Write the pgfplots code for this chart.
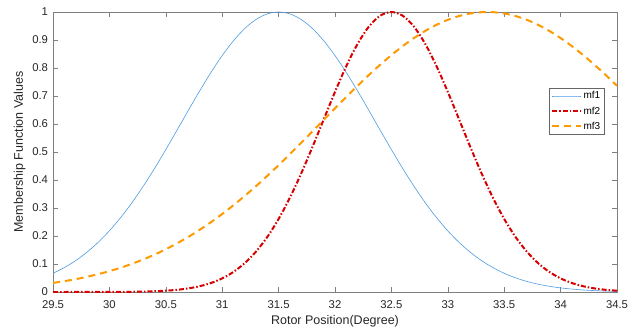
\documentclass[border=0pt]{standalone}
\usepackage{fontspec}
\setmainfont{Liberation Sans}
\usepackage{pgfplots}
\pgfplotsset{compat=1.18}
\definecolor{mfblue}{RGB}{77,155,228}
\definecolor{mfred}{RGB}{214,0,0}
\definecolor{mforange}{RGB}{255,153,0}
\definecolor{axgray}{RGB}{128,128,128}
\begin{document}
\begin{tikzpicture}
\begin{axis}[name=ax, scale only axis, width=564pt, height=280pt,
  xmin=29.5, xmax=34.5, ymin=0, ymax=1,
  xtick={29.5,30,30.5,31,31.5,32,32.5,33,33.5,34,34.5},
  ytick={0,0.1,0.2,0.3,0.4,0.5,0.6,0.7,0.8,0.9,1},
  yticklabels={0,0.1,0.2,0.3,0.4,0.5,0.6,0.7,0.8,0.9,1},
  xticklabels={29.5,30,30.5,31,31.5,32,32.5,33,33.5,34,34.5},
  tick align=inside, tick pos=both, major tick length=5pt,
  axis line style={axgray, line width=0.6pt},
  tick style={axgray, line width=0.6pt},
  ticklabel style={font=\fontsize{11.3}{12}\selectfont, text=black!85},
  xticklabel style={yshift=-5pt},
  yticklabel style={xshift=-1.5pt},
  xlabel={Rotor Position(Degree)}, ylabel={Membership Function Values},
  label style={font=\fontsize{12.5}{13}\selectfont, text=black!85},
  xlabel style={yshift=0pt},
  legend style={at={(0.977,0.729)}, anchor=north east, font=\fontsize{10}{11}\selectfont,
    draw=black!60, line width=0.5pt, inner sep=1.5pt, row sep=2.5pt},
  legend cell align=left,
  legend image code/.code={\draw[#1] plot coordinates {(0cm,0cm) (0.5cm,0cm) (1cm,0cm)};},
]
\addplot[mfblue, line width=0.6pt, smooth] coordinates {
(29.5,0.0669)(29.6,0.0871)(29.7,0.1118)(29.8,0.1418)(29.9,0.1772)(30.0,0.2185)
(30.1,0.2658)(30.2,0.3190)(30.3,0.3778)(30.4,0.4413)(30.5,0.5087)(30.6,0.5783)
(30.7,0.6488)(30.8,0.7180)(30.9,0.7840)(31.0,0.8445)(31.1,0.8974)(31.2,0.9410)
(31.3,0.9734)(31.4,0.9933)(31.5,1.0000)(31.6,0.9933)(31.7,0.9734)(31.8,0.9410)
(31.9,0.8974)(32.0,0.8445)(32.1,0.7840)(32.2,0.7180)(32.3,0.6488)(32.4,0.5783)
(32.5,0.5087)(32.6,0.4413)(32.7,0.3778)(32.8,0.3190)(32.9,0.2658)(33.0,0.2185)
(33.1,0.1772)(33.2,0.1418)(33.3,0.1118)(33.4,0.0871)(33.5,0.0669)(33.6,0.0507)
(33.7,0.0379)(33.8,0.0280)(33.9,0.0204)(34.0,0.0146)(34.1,0.0104)(34.2,0.0072)
(34.3,0.0050)(34.4,0.0034)(34.5,0.0023)};
\addlegendentry{mf1}
\addplot[mfred, line width=2pt, smooth, dash pattern=on 5pt off 2pt on 1.5pt off 2pt] coordinates {
(29.5,0)(29.6,0.00001)(29.7,0.00002)(29.8,0.00005)(29.9,0.0001)(30.0,0.0002)
(30.1,0.0004)(30.2,0.0008)(30.3,0.0015)(30.4,0.0027)(30.5,0.0046)(30.6,0.0078)
(30.7,0.0129)(30.8,0.0206)(30.9,0.0321)(31.0,0.0486)(31.1,0.0718)(31.2,0.1032)
(31.3,0.1445)(31.4,0.1967)(31.5,0.2609)(31.6,0.3368)(31.7,0.4232)(31.8,0.5177)
(31.9,0.6165)(32.0,0.7147)(32.1,0.8065)(32.2,0.8861)(32.3,0.9477)(32.4,0.9867)
(32.5,1.0000)(32.6,0.9867)(32.7,0.9477)(32.8,0.8861)(32.9,0.8065)(33.0,0.7147)
(33.1,0.6165)(33.2,0.5177)(33.3,0.4232)(33.4,0.3368)(33.5,0.2609)(33.6,0.1967)
(33.7,0.1445)(33.8,0.1032)(33.9,0.0718)(34.0,0.0486)(34.1,0.0321)(34.2,0.0206)
(34.3,0.0129)(34.4,0.0078)(34.5,0.0046)};
\addlegendentry{mf2}
\addplot[mforange, line width=2pt, smooth, dash pattern=on 7pt off 5pt] coordinates {
(29.5,0.0324)(29.6,0.0386)(29.7,0.0458)(29.8,0.0542)(29.9,0.0637)(30.0,0.0745)
(30.1,0.0868)(30.2,0.1007)(30.3,0.1162)(30.4,0.1335)(30.5,0.1527)(30.6,0.1738)
(30.7,0.1969)(30.8,0.2221)(30.9,0.2494)(31.0,0.2786)(31.1,0.3099)(31.2,0.3432)
(31.3,0.3782)(31.4,0.4149)(31.5,0.4530)(31.6,0.4923)(31.7,0.5326)(31.8,0.5736)
(31.9,0.6148)(32.0,0.6559)(32.1,0.6966)(32.2,0.7364)(32.3,0.7748)(32.4,0.8115)
(32.5,0.8461)(32.6,0.8780)(32.7,0.9069)(32.8,0.9324)(32.9,0.9542)(33.0,0.9721)
(33.1,0.9856)(33.2,0.9948)(33.3,0.9994)(33.35,1.0000)(33.4,0.9994)(33.5,0.9948)
(33.6,0.9856)(33.7,0.9721)(33.8,0.9542)(33.9,0.9324)(34.0,0.9069)(34.1,0.8780)
(34.2,0.8461)(34.3,0.8115)(34.4,0.7748)(34.5,0.7364)};
\addlegendentry{mf3}
\end{axis}
\pgfresetboundingbox
\path ([xshift=-53pt,yshift=-43pt]ax.south west) rectangle ([xshift=22pt,yshift=12pt]ax.north east);
\end{tikzpicture}
\end{document}
